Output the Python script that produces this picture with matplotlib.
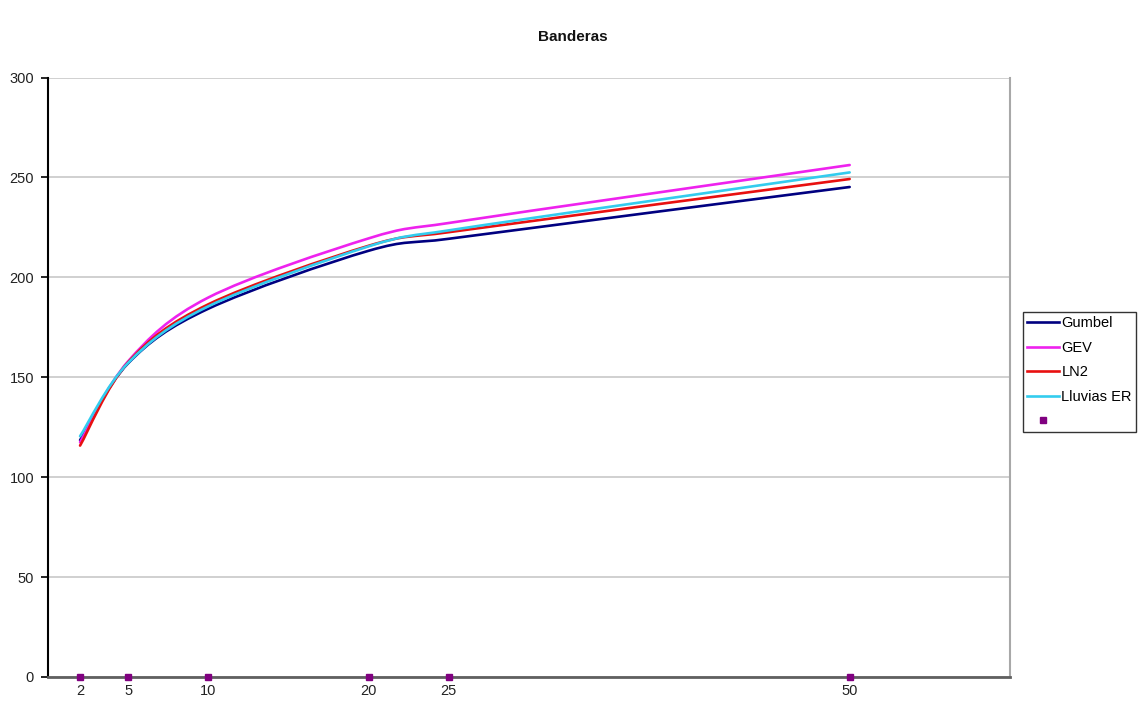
import numpy as np
import matplotlib
matplotlib.use('Agg')
import matplotlib.pyplot as plt
from matplotlib.path import Path
from matplotlib.patches import PathPatch
from matplotlib.lines import Line2D
from matplotlib import rcParams
rcParams['font.family'] = ['Liberation Sans', 'DejaVu Sans']

# return periods (years) and rainfall estimates per distribution
periods = np.array([2, 5, 10, 20, 25, 50])
gumbel = np.array([118.5, 157.0, 184.3, 213.3, 219.3, 245.2])
gev = np.array([117.5, 158.0, 189.9, 219.5, 227.2, 256.2])
ln2 = np.array([115.8, 157.5, 186.5, 215.8, 222.6, 249.2])
lluvias_er = np.array([120.5, 157.2, 185.5, 215.5, 223.5, 252.5])
markers_y = np.zeros(len(periods))

series = [('Gumbel', gumbel, '#000080'),
          ('GEV', gev, '#EE22EE'),
          ('LN2', ln2, '#E81010'),
          ('Lluvias ER', lluvias_er, '#33CCEE')]


def smooth_path(xs, ys, sx, sy):
    # smoothed line through the points, built as cubic bezier segments
    pts = np.column_stack([xs * sx, ys * sy])
    n = len(pts)
    verts = [pts[0]]
    codes = [Path.MOVETO]
    for i in range(n - 1):
        p0 = pts[i - 1] if i > 0 else pts[i]
        p1 = pts[i]
        p2 = pts[i + 1]
        p3 = pts[i + 2] if i + 2 < n else pts[i + 1]
        seg = np.linalg.norm(p2 - p1)
        t1 = (p2 - p0) / 6.0
        t2 = (p3 - p1) / 6.0
        for t in (t1, t2):
            ln = np.linalg.norm(t)
            if ln > seg * 0.5:
                t *= seg * 0.5 / ln
        verts += [p1 + t1, p2 - t2, p2]
        codes += [Path.CURVE4] * 3
    verts = np.array(verts) / np.array([sx, sy])
    return Path(verts, codes)


fig = plt.figure(figsize=(11.45, 7.02), dpi=100)
ax = fig.add_axes([48 / 1145, 25 / 702, 962 / 1145, 599.5 / 702])

ax.set_xlim(0, 60)
ax.set_ylim(0, 300)
ax.set_yticks(np.arange(0, 301, 50))
ax.set_xticks(periods)
ax.set_xticklabels([str(p) for p in periods])
ax.yaxis.grid(True, color='#c8c8c8', linewidth=1.2)
ax.set_axisbelow(True)

handles = []
for name, vals, col in series:
    path = smooth_path(periods.astype(float), vals, 16.04, 2.0)
    ax.add_patch(PathPatch(path, fill=False, edgecolor=col, linewidth=1.9,
                           capstyle='round', joinstyle='round'))
    handles.append(Line2D([], [], color=col, linewidth=1.9, label=name))

ax.plot(periods, markers_y, linestyle='none', marker='s', markersize=5,
        color='#800080', clip_on=False, zorder=5)
handles.append(Line2D([], [], linestyle='none', marker='s', markersize=5,
                      color='#800080', label=' '))

ax.spines['top'].set_visible(False)
ax.spines['right'].set_color('#a8a8a8')
ax.spines['right'].set_linewidth(1.5)
ax.spines['left'].set_color('black')
ax.spines['left'].set_linewidth(1.5)
ax.spines['bottom'].set_color('#606060')
ax.spines['bottom'].set_linewidth(2)

ax.tick_params(axis='y', direction='out', length=5, width=1.2, labelsize=10.5,
               colors='black', labelcolor='#222222', pad=5)
ax.tick_params(axis='x', length=0, labelsize=10.5, labelcolor='#222222', pad=5)

fig.text(0.5, 1 - 37 / 702, 'Banderas', ha='center', va='center',
         fontsize=11, fontweight='bold', color='#111111')

leg = fig.legend(handles=handles, loc='upper left',
                 bbox_to_anchor=(1023 / 1145, 1 - 312 / 702),
                 fontsize=10.5, frameon=True, fancybox=False,
                 handlelength=2.2, handletextpad=0.15, borderpad=0.5,
                 borderaxespad=0, labelspacing=0.72, handleheight=0.7)
leg.get_frame().set_edgecolor('black')
leg.get_frame().set_linewidth(1.0)
# tighter horizontal padding inside the legend box
leg._legend_box.pad = 3

fig.savefig('out.png', dpi=100)
